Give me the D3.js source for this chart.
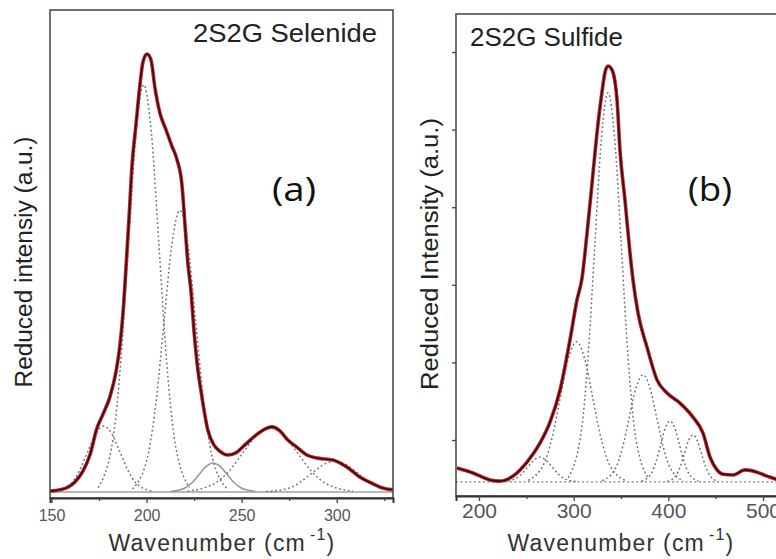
<!DOCTYPE html>
<html>
<head>
<meta charset="utf-8">
<script src="https://cdn.jsdelivr.net/npm/d3@7/dist/d3.min.js"></script>
<style>
  body { margin: 0; background: #fff; }
  svg { display: block; }
</style>
</head>
<body>
<div id="chart"></div>
<script>
// (a) 2S2G selenide: measured curve, [wavenumber, reduced intensity]
const selenideTotal = [
  [149.2, 0.002], [154.5, 0.005], [158.7, 0.011], [162.3, 0.023], [166.6, 0.048],
  [170.2, 0.084], [173.9, 0.145], [177.1, 0.177], [180.7, 0.216], [183.9, 0.273],
  [186.0, 0.334], [187.6, 0.407], [189.1, 0.505], [190.7, 0.618], [192.3, 0.739],
  [194.4, 0.834], [196.5, 0.925], [198.1, 0.977], [200.2, 0.995], [202.3, 0.982],
  [204.4, 0.918], [207.0, 0.861], [210.2, 0.823], [213.3, 0.786], [216.0, 0.755],
  [218.6, 0.698], [220.2, 0.607], [221.7, 0.520], [223.3, 0.459], [224.9, 0.368],
  [226.5, 0.295], [229.1, 0.216], [232.2, 0.141], [235.4, 0.107], [238.5, 0.093],
  [242.7, 0.084], [246.9, 0.089], [251.7, 0.107], [256.9, 0.127], [262.2, 0.143],
  [265.9, 0.148], [270.1, 0.139], [274.3, 0.118], [279.0, 0.102], [284.3, 0.084],
  [290.0, 0.077], [297.9, 0.073], [305.3, 0.057], [312.1, 0.034], [318.4, 0.020],
  [324.2, 0.009], [329.6, 0.005]
];
// fitted component bands
const selenidePeak1 = [[152, 0.002], [160.5, 0.020], [164.75, 0.049], [169, 0.091], [173.25, 0.132], [177.5, 0.150], [181.75, 0.132], [186, 0.091], [190.25, 0.049], [194.5, 0.020], [203, 0.002]];
const selenidePeak2 = [[174.5, 0.010], [182.5, 0.125], [186.5, 0.300], [190.5, 0.561], [194.5, 0.816], [198.5, 0.925], [202.5, 0.816], [206.5, 0.561], [210.5, 0.300], [214.5, 0.125], [222.5, 0.010]];
const selenidePeak3 = [[192.6, 0.007], [200.9, 0.087], [205.05, 0.208], [209.2, 0.388], [213.35, 0.565], [217.5, 0.640], [221.65, 0.565], [225.8, 0.388], [229.95, 0.208], [234.1, 0.087], [242.4, 0.007]];
const selenidePeak4 = [[212.8, 0.001], [220.2, 0.009], [223.9, 0.021], [227.6, 0.040], [231.3, 0.058], [235, 0.066], [238.7, 0.058], [242.4, 0.040], [246.1, 0.021], [249.8, 0.009], [257.2, 0.001]];
const selenidePeak5 = [[221.5, 0.002], [236, 0.020], [243.25, 0.047], [250.5, 0.088], [257.75, 0.128], [265, 0.145], [272.25, 0.128], [279.5, 0.088], [286.75, 0.047], [294, 0.020], [308.5, 0.002]];
const selenidePeak6 = [[263, 0.001], [275, 0.009], [281, 0.023], [287, 0.043], [293, 0.062], [299, 0.070], [305, 0.062], [311, 0.043], [317, 0.023], [323, 0.009], [335, 0.001]];
const selenideBaseline = 0;
const selenideTicks = [150, 200, 250, 300];
const selenideMinorTicks = [175, 225, 275, 325];

// (b) 2S2G sulfide
const sulfideTotal = [
  [176.8, 0.128], [193.7, 0.115], [211.6, 0.097], [222.2, 0.094], [235.9, 0.107],
  [250.7, 0.143], [264.4, 0.192], [275.0, 0.246], [285.6, 0.329], [296.1, 0.458],
  [303.5, 0.561], [308.8, 0.617], [314.1, 0.733], [319.4, 0.862], [324.6, 0.991],
  [329.9, 1.097], [333.1, 1.148], [336.3, 1.164], [340.5, 1.154], [345.8, 1.076],
  [348.9, 0.947], [354.2, 0.818], [359.5, 0.682], [362.7, 0.612], [368.0, 0.527],
  [377.5, 0.439], [388.0, 0.355], [398.6, 0.321], [412.3, 0.295], [426.0, 0.259],
  [436.6, 0.218], [444.0, 0.156], [451.4, 0.123], [457.7, 0.112], [468.3, 0.110],
  [481.0, 0.123], [493.7, 0.117], [504.2, 0.107], [513.7, 0.099], [528.5, 0.094]
];
const sulfidePeak1 = [[226.3, 0.093], [239, 0.101], [245.35, 0.113], [251.7, 0.131], [258.05, 0.148], [264.4, 0.156], [270.75, 0.148], [277.1, 0.131], [283.45, 0.113], [289.8, 0.101], [302.5, 0.093]];
const sulfidePeak2 = [[252, 0.096], [269, 0.141], [277.5, 0.209], [286, 0.311], [294.5, 0.411], [303, 0.453], [311.5, 0.411], [320, 0.311], [328.5, 0.209], [337, 0.141], [354, 0.096]];
const sulfidePeak3 = [[294.3, 0.103], [308.3, 0.227], [315.3, 0.418], [322.3, 0.701], [329.3, 0.977], [336.3, 1.095], [343.3, 0.977], [350.3, 0.701], [357.3, 0.418], [364.3, 0.227], [378.3, 0.103]];
const sulfidePeak4 = [[330.3, 0.095], [344.6, 0.129], [351.75, 0.182], [358.9, 0.260], [366.05, 0.336], [373.2, 0.368], [380.35, 0.336], [387.5, 0.260], [394.65, 0.182], [401.8, 0.129], [416.1, 0.095]];
const sulfidePeak5 = [[371.8, 0.094], [381.8, 0.113], [386.8, 0.143], [391.8, 0.187], [396.8, 0.231], [401.8, 0.249], [406.8, 0.231], [411.8, 0.187], [416.8, 0.143], [421.8, 0.113], [431.8, 0.094]];
const sulfidePeak6 = [[399, 0.093], [408, 0.108], [412.5, 0.131], [417, 0.165], [421.5, 0.199], [426, 0.213], [430.5, 0.199], [435, 0.165], [439.5, 0.131], [444, 0.108], [453, 0.093]];
const sulfideBaseline = 0.092;
const sulfideTicks = [200, 300, 400, 500];
const sulfideMinorTicks = [250, 350, 450];
const sulfideYTicks = [0.2, 0.4, 0.6, 0.8, 1.0, 1.2];

const width = 776;
const height = 559;

const svg = d3
  .select("#chart")
  .append("svg")
  .attr("width", width)
  .attr("height", height)
  .attr("font-family", "'Liberation Sans', Arial, sans-serif");

function drawPanel(p) {
  const x = d3.scaleLinear().domain(p.xDomain).range([p.left, p.right]);
  const y = d3.scaleLinear().domain(p.yDomain).range([p.bottom, p.top]);

  svg
    .append("clipPath")
    .attr("id", "clip-" + p.id)
    .append("rect")
    .attr("x", p.left)
    .attr("y", p.top)
    .attr("width", p.right - p.left)
    .attr("height", p.bottom - p.top);

  const line = d3
    .line()
    .x((d) => x(d[0]))
    .y((d) => y(d[1]))
    .curve(d3.curveMonotoneX);

  const plot = svg.append("g").attr("clip-path", `url(#clip-${p.id})`);

  // baseline of the fit
  plot
    .append("path")
    .datum(p.xDomain.map((v) => [v, p.baseline]))
    .attr("fill", "none")
    .attr("stroke", p.baselineDotted ? "#808080" : "#a0a0a0")
    .attr("stroke-width", p.baselineDotted ? 1.4 : 1.6)
    .attr("stroke-dasharray", p.baselineDotted ? "2,2.5" : null)
    .attr("d", line);

  // component bands
  plot
    .append("g")
    .selectAll("path")
    .data(p.peaks)
    .join("path")
    .attr("fill", "none")
    .attr("stroke", (d, i) => (i === p.solidPeak ? "#999" : "#707070"))
    .attr("stroke-width", (d, i) => (i === p.solidPeak ? 1.6 : 1.5))
    .attr("stroke-dasharray", (d, i) => (i === p.solidPeak ? null : "1.8,2.6"))
    .attr("d", line);

  // measured curve: red halo under a dark trace
  plot
    .append("path")
    .datum(p.total)
    .attr("fill", "none")
    .attr("stroke", "#c0272d")
    .attr("stroke-width", 3.6)
    .attr("stroke-linejoin", "round")
    .attr("d", line);
  plot
    .append("path")
    .datum(p.total)
    .attr("fill", "none")
    .attr("stroke", "#3a0c0e")
    .attr("stroke-width", 1.6)
    .attr("stroke-linejoin", "round")
    .attr("d", line);

  // frame
  svg
    .append("rect")
    .attr("x", p.left)
    .attr("y", p.top)
    .attr("width", p.right - p.left)
    .attr("height", p.bottom - p.top)
    .attr("fill", "none")
    .attr("stroke", "#4d4d4d")
    .attr("stroke-width", 1.6);

  const xAxis = svg
    .append("g")
    .attr("transform", `translate(0,${p.bottom})`)
    .call(
      d3
        .axisBottom(x)
        .tickValues(p.ticks)
        .tickSize(5)
        .tickPadding(p.tickPadding)
        .tickFormat(d3.format("d"))
    );
  xAxis.select(".domain").attr("stroke", "#333").attr("stroke-width", 2);
  xAxis.selectAll(".tick line").attr("stroke", "#444").attr("stroke-width", 1.3);
  xAxis
    .selectAll(".tick text")
    .attr("fill", "#555")
    .attr("font-size", p.tickFont)
    .attr("font-family", "'Liberation Sans', Arial, sans-serif");

  const minor = svg
    .append("g")
    .attr("transform", `translate(0,${p.bottom})`)
    .call(d3.axisBottom(x).tickValues(p.minorTicks).tickSize(3).tickFormat(""));
  minor.select(".domain").remove();
  minor.selectAll(".tick line").attr("stroke", "#444").attr("stroke-width", 1.3);

  if (p.yTicks) {
    const yAxis = svg
      .append("g")
      .attr("transform", `translate(${p.left},0)`)
      .call(d3.axisLeft(y).tickValues(p.yTicks).tickSize(4).tickFormat(""));
    yAxis.select(".domain").remove();
    yAxis.selectAll(".tick line").attr("stroke", "#444").attr("stroke-width", 1.3);
  }

  // title in the top corner
  svg
    .append("text")
    .attr("x", p.titleX)
    .attr("y", p.top + 32)
    .attr("font-size", 25)
    .attr("fill", "#222")
    .attr("textLength", p.titleLength)
    .attr("lengthAdjust", "spacingAndGlyphs")
    .text(p.title);

  // panel letter
  svg
    .append("text")
    .attr("x", p.letterX)
    .attr("y", 201)
    .attr("font-family", "'Open Sans', 'Noto Sans', sans-serif")
    .attr("font-weight", 400)
    .attr("font-size", 32)
    .attr("fill", "#111")
    .attr("textLength", 44)
    .attr("lengthAdjust", "spacingAndGlyphs")
    .text(p.letter);

  // y label
  svg
    .append("text")
    .attr("transform", `translate(${p.yLabelX},${p.yLabelY}) rotate(-90)`)
    .attr("text-anchor", "middle")
    .attr("font-size", 23)
    .attr("fill", "#222")
    .attr("textLength", p.yLabelLength)
    .attr("lengthAdjust", "spacingAndGlyphs")
    .text(p.yLabel);

  // x label with superscript
  const xl = svg
    .append("text")
    .attr("x", p.xLabelX)
    .attr("y", 551)
    .attr("text-anchor", "middle")
    .attr("font-size", 23)
    .attr("letter-spacing", 1.2)
    .attr("fill", "#333");
  xl.append("tspan").text("Wavenumber (cm");
  xl.append("tspan").attr("font-size", 16).attr("dx", 4).attr("dy", -11).text("-1");
  xl.append("tspan").attr("dy", 11).text(")");
}

drawPanel({
  id: "a",
  left: 50,
  right: 393,
  top: 10,
  bottom: 498,
  xDomain: [149.2, 329.6],
  yDomain: [-0.0136, 1.095],
  total: selenideTotal,
  peaks: [selenidePeak1, selenidePeak2, selenidePeak3, selenidePeak4, selenidePeak5, selenidePeak6],
  solidPeak: 3,
  baseline: selenideBaseline,
  baselineDotted: false,
  ticks: selenideTicks,
  minorTicks: selenideMinorTicks,
  tickPadding: 7,
  tickFont: 16,
  title: "2S2G Selenide",
  titleX: 193,
  titleLength: 184,
  letter: "(a)",
  letterX: 272,
  yLabel: "Reduced intensiy (a.u.)",
  yLabelX: 32,
  yLabelY: 262,
  yLabelLength: 251,
  xLabelX: 222,
});

drawPanel({
  id: "b",
  left: 456,
  right: 790,
  top: 14,
  bottom: 496,
  xDomain: [175.7, 528.5],
  yDomain: [0.0557, 1.298],
  total: sulfideTotal,
  peaks: [sulfidePeak1, sulfidePeak2, sulfidePeak3, sulfidePeak4, sulfidePeak5, sulfidePeak6],
  solidPeak: -1,
  baseline: sulfideBaseline,
  baselineDotted: true,
  ticks: sulfideTicks,
  minorTicks: sulfideMinorTicks,
  yTicks: sulfideYTicks,
  tickPadding: 2,
  tickFont: 21,
  title: "2S2G Sulfide",
  titleX: 470,
  titleLength: 153,
  letter: "(b)",
  letterX: 688,
  yLabel: "Reduced Intensity (a.u.)",
  yLabelX: 438,
  yLabelY: 254,
  yLabelLength: 272,
  xLabelX: 621,
});
</script>
</body>
</html>
